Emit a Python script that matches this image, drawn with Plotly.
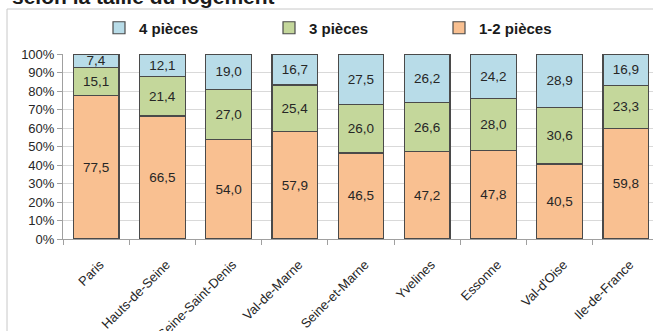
import plotly.graph_objects as go

# Housing stock by département, share of each dwelling size (%)
regions = ["Paris", "Hauts-de-Seine", "Seine-Saint-Denis", "Val-de-Marne",
           "Seine-et-Marne", "Yvelines", "Essonne", "Val-d'Oise", "Ile-de-France"]
small_1_2 = [77.5, 66.5, 54.0, 57.9, 46.5, 47.2, 47.8, 40.5, 59.8]
mid_3 = [15.1, 21.4, 27.0, 25.4, 26.0, 26.6, 28.0, 30.6, 23.3]
large_4 = [7.4, 12.1, 19.0, 16.7, 27.5, 26.2, 24.2, 28.9, 16.9]
y_ticks = [0, 10, 20, 30, 40, 50, 60, 70, 80, 90, 100]

series = [
    ("1-2 pièces", small_1_2, "#f9c091"),
    ("3 pièces", mid_3, "#c4d79b"),
    ("4 pièces", large_4, "#b8dce8"),
]

FONT = "Liberation Sans, Arial, sans-serif"
W, H = 653, 331
L, T, B = 63, 54, 92
plot_w = W - L
plot_h = H - T - B


def px_x(px):
    return (px - L) / plot_w


def px_y(py):
    return (H - B - py) / plot_h


fig = go.Figure()
for name, vals, color in series:
    fig.add_trace(go.Bar(
        x=regions, y=vals, name=name,
        marker=dict(color=color, line=dict(color="#4a4a4a", width=1.2)),
        texttemplate="%{y:.1f}", textposition="inside",
        insidetextanchor="middle",
        textfont=dict(family=FONT, size=13.5, color="#262626"),
        constraintext="none",
    ))

fig.update_layout(
    width=W, height=H,
    margin=dict(l=L, r=0, t=T, b=B),
    barmode="stack", bargap=0.31,
    separators=", ",
    paper_bgcolor="white", plot_bgcolor="white",
    font=dict(family=FONT, color="#262626"),
    uniformtext=dict(minsize=13.5, mode="show"),
    legend=dict(
        orientation="h", traceorder="reversed",
        x=px_x(99), xanchor="left", y=px_y(28), yanchor="middle",
        entrywidth=125, itemwidth=30,
        font=dict(family=FONT, size=15, color="#1a1a1a", weight="bold"),
        bgcolor="rgba(0,0,0,0)",
    ),
    showlegend=True,
)

fig.update_xaxes(
    range=[-0.5, 8.5 - 6 / 66.4],
    automargin=False,
    tickangle=-45, tickson="boundaries",
    ticks="outside", ticklen=5, tickcolor="#a0a0a0",
    ticklabelstandoff=12, ticklabelshift=4,
    showline=True, linecolor="#a0a0a0", linewidth=1,
    showgrid=False,
    tickfont=dict(family=FONT, size=13, color="#262626"),
)
fig.update_yaxes(
    range=[0, 100], tickvals=y_ticks, ticktext=[f"{v}%" for v in y_ticks],
    automargin=False,
    ticks="outside", ticklen=5, tickcolor="#a0a0a0",
    showline=True, linecolor="#a0a0a0", linewidth=1,
    showgrid=True, gridcolor="#d9d9d9", gridwidth=1,
    zeroline=False,
    tickfont=dict(family=FONT, size=13, color="#262626"),
)

# chart frame
fig.add_shape(type="rect", xref="paper", yref="paper",
              x0=px_x(7), x1=px_x(W + 20), y0=px_y(H + 20), y1=px_y(9),
              line=dict(color="#c8c8c8", width=1), fillcolor="rgba(0,0,0,0)",
              layer="below")

# chart title (top line)
fig.add_annotation(
    text="selon la taille du logement", xref="paper", yref="paper",
    x=px_x(10), xanchor="left", y=px_y(-3.5), yanchor="middle",
    showarrow=False,
    font=dict(family=FONT, size=21, color="#1a1a1a", weight="bold"),
)

fig.write_html("out.html")
